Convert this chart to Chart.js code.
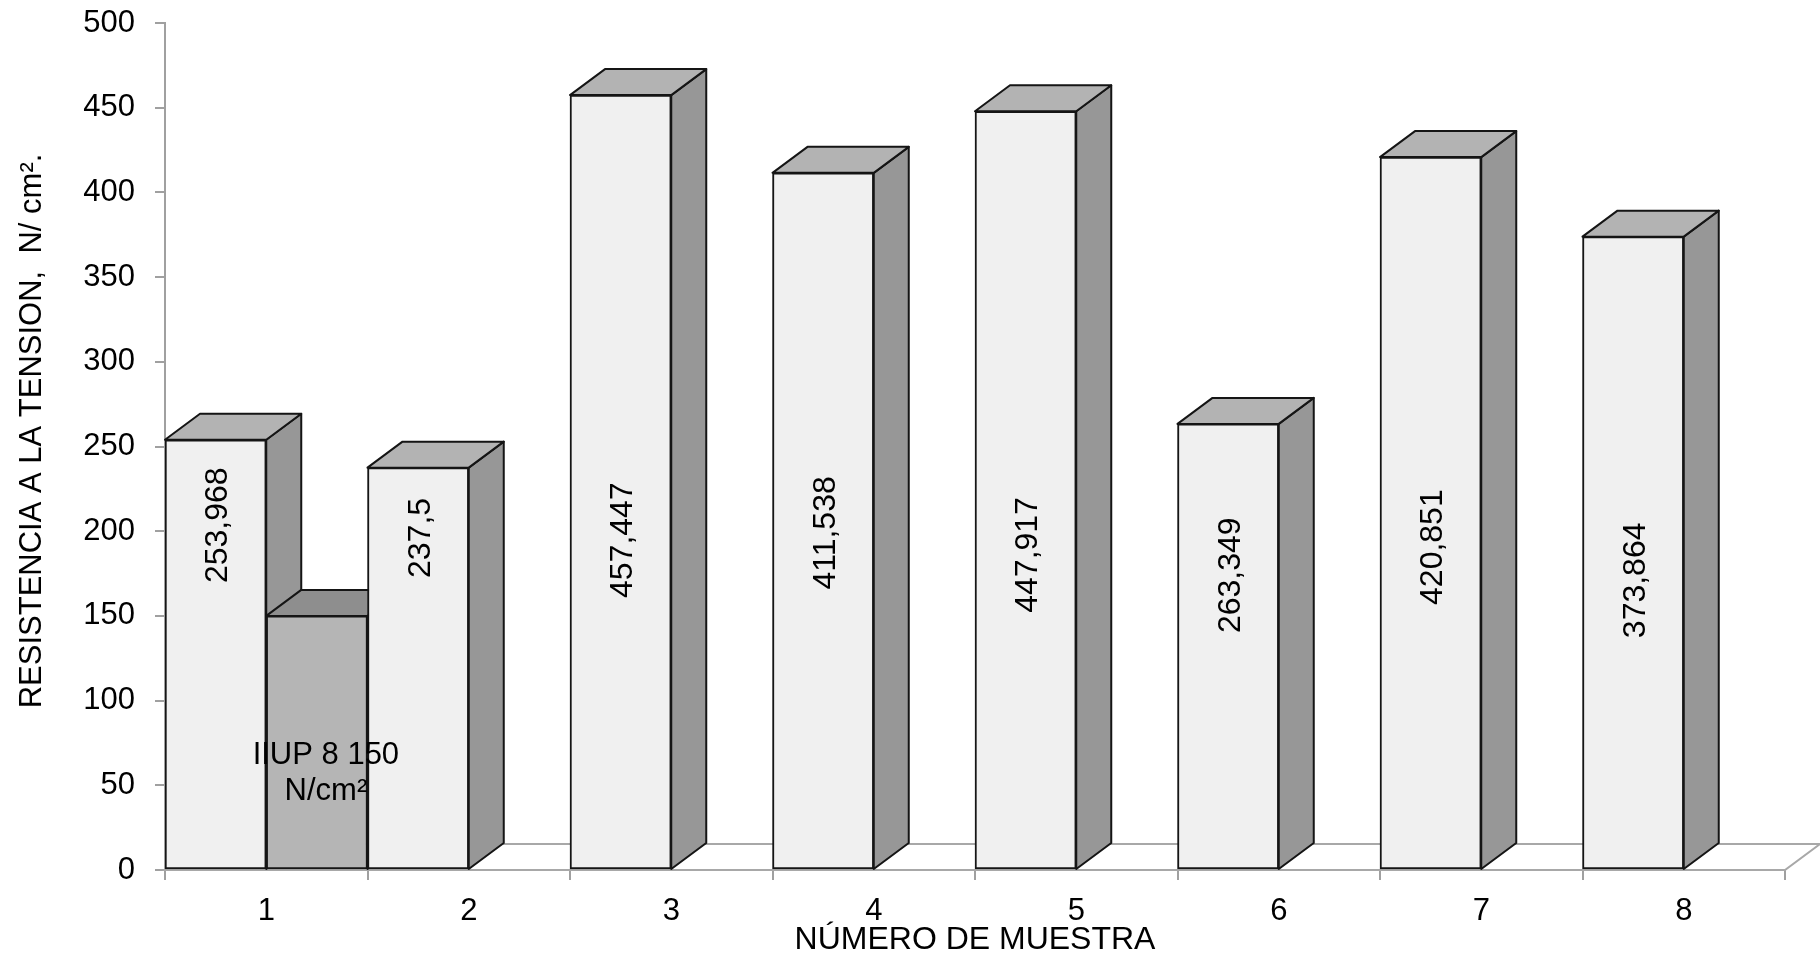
<!DOCTYPE html>
<html>
<head>
<meta charset="utf-8">
<script src="https://cdn.jsdelivr.net/npm/chart.js@4.4.1/dist/chart.umd.min.js"></script>
<style>
  html, body { margin: 0; padding: 0; background: #ffffff; }
  #grafico { display: block; }
</style>
</head>
<body>
<canvas id="grafico" width="1820" height="958"></canvas>
<script>
// Número de muestra (eje X)
const muestras = ['1', '2', '3', '4', '5', '6', '7', '8'];
// Resistencia a la tensión medida, N/cm²
const resistencia = [253.968, 237.5, 457.447, 411.538, 447.917, 263.349, 420.851, 373.864];
// Valor de referencia de la norma (solo junto a la muestra 1)
const norma = [150, null, null, null, null, null, null, null];
const normaNombre = 'IIUP 8';
// Marcas del eje Y
const yMin = 0, yMax = 500, yPaso = 50;

const FUENTE = "'Liberation Sans', Arial, Helvetica, sans-serif";
Chart.defaults.font.family = FUENTE;
Chart.defaults.color = '#000';

const coma = v => String(v).replace('.', ',');

// Caras laterales y superiores de las columnas (efecto 3D) y el piso
const caras3d = {
  id: 'caras3d',
  beforeDatasetsDraw(chart, args, opts) {
    const ctx = chart.ctx;
    const xs = chart.scales.x, ys = chart.scales.y;
    const dx = opts.dx, dy = opts.dy;
    const y0 = ys.getPixelForValue(0);
    ctx.save();
    // piso
    ctx.beginPath();
    ctx.moveTo(xs.left, y0);
    ctx.lineTo(xs.right, y0);
    ctx.lineTo(xs.right + dx, y0 - dy);
    ctx.lineTo(xs.left + dx, y0 - dy);
    ctx.closePath();
    ctx.fillStyle = '#ffffff';
    ctx.fill();
    ctx.strokeStyle = '#a8a8a8';
    ctx.lineWidth = 2;
    ctx.stroke();

    const poly = (pts, fill) => {
      ctx.beginPath();
      ctx.moveTo(pts[0][0], pts[0][1]);
      for (let k = 1; k < pts.length; k++) ctx.lineTo(pts[k][0], pts[k][1]);
      ctx.closePath();
      ctx.fillStyle = fill;
      ctx.fill();
      ctx.strokeStyle = '#151515';
      ctx.lineWidth = 2;
      ctx.lineJoin = 'round';
      ctx.stroke();
    };

    const n = chart.data.labels.length;
    for (let i = 0; i < n; i++) {
      chart.data.datasets.forEach((ds, d) => {
        const v = ds.data[i];
        if (v === null || v === undefined) return;
        const el = chart.getDatasetMeta(d).data[i];
        const p = el.getProps(['x', 'y', 'base', 'width'], true);
        const l = p.x - p.width / 2, r = p.x + p.width / 2;
        poly([[r, p.y], [r + dx, p.y - dy], [r + dx, p.base - dy], [r, p.base]], ds.sideColor);
        poly([[l, p.y], [l + dx, p.y - dy], [r + dx, p.y - dy], [r, p.y]], ds.topColor);
      });
    }
    ctx.restore();
  },
  afterDatasetsDraw(chart, args, opts) {
    const ctx = chart.ctx;
    const ys = chart.scales.y;
    ctx.save();
    ctx.fillStyle = '#000';
    // valores girados dentro de cada columna
    const meta0 = chart.getDatasetMeta(0);
    ctx.font = '32px ' + FUENTE;
    ctx.textAlign = 'center';
    ctx.textBaseline = 'middle';
    resistencia.forEach((v, i) => {
      const el = meta0.data[i];
      const yc = ys.getPixelForValue(opts.etiquetaEn[i]);
      ctx.save();
      ctx.translate(el.x + 3, yc);
      ctx.rotate(-Math.PI / 2);
      ctx.fillText(coma(v), 0, 0);
      ctx.restore();
    });
    // etiqueta de la norma
    const meta1 = chart.getDatasetMeta(1);
    norma.forEach((v, i) => {
      if (v === null) return;
      const el = meta1.data[i];
      const yc = ys.getPixelForValue(opts.normaEn);
      ctx.font = '31px ' + FUENTE;
      ctx.fillText(normaNombre + ' ' + coma(v), el.x + 9, yc - 18);
      ctx.fillText('N/cm²', el.x + 9, yc + 18);
    });
    // título del eje Y
    ctx.font = '31px ' + FUENTE;
    ctx.translate(opts.tituloY.x, opts.tituloY.y);
    ctx.rotate(-Math.PI / 2);
    ctx.fillText('RESISTENCIA A LA TENSION,  N/ cm².', 0, 0);
    ctx.restore();
  }
};

new Chart(document.getElementById('grafico'), {
  type: 'bar',
  data: {
    labels: muestras,
    datasets: [
      {
        label: 'Resistencia',
        data: resistencia,
        backgroundColor: '#f0f0f0',
        borderColor: '#151515',
        borderWidth: 2,
        borderSkipped: false,
        sideColor: '#979797',
        topColor: '#b3b3b3'
      },
      {
        label: normaNombre,
        data: norma,
        backgroundColor: '#b5b5b5',
        borderColor: '#151515',
        borderWidth: 2,
        borderSkipped: false,
        sideColor: '#8e8e8e',
        topColor: '#8e8e8e'
      }
    ]
  },
  options: {
    responsive: false,
    maintainAspectRatio: false,
    animation: false,
    devicePixelRatio: 1,
    layout: { padding: { top: 23, right: 35, left: 0, bottom: 0 } },
    datasets: { bar: { categoryPercentage: 1, barPercentage: 1 } },
    plugins: {
      legend: { display: false },
      tooltip: { enabled: false },
      caras3d: {
        dx: 35,
        dy: 26,
        etiquetaEn: [203.5, 196, 194.7, 199, 186, 174, 190.6, 171],
        normaEn: 57,
        tituloY: { x: 32, y: 431 }
      }
    },
    scales: {
      x: {
        grid: { display: true, drawOnChartArea: false, drawTicks: true, tickLength: 10, color: '#a0a0a0', lineWidth: 2, offset: true },
        border: { display: true, color: '#a0a0a0', width: 2 },
        ticks: { color: '#000', font: { size: 31 }, padding: 13 },
        title: { display: true, text: 'NÚMERO DE MUESTRA', color: '#000', font: { size: 32, lineHeight: 1 }, padding: { top: 0, bottom: 2 } },
        afterFit(s) { s.height = 88; }
      },
      y: {
        min: yMin,
        max: yMax,
        ticks: { stepSize: yPaso, color: '#000', font: { size: 31 }, padding: 20 },
        grid: { display: true, drawOnChartArea: false, drawTicks: true, tickLength: 10, color: '#a0a0a0', lineWidth: 2 },
        border: { display: true, color: '#a0a0a0', width: 2 },
        afterFit(s) { s.width = 165; s.paddingTop = 0; s.paddingBottom = 0; }
      }
    }
  },
  plugins: [caras3d]
});
</script>
</body>
</html>
